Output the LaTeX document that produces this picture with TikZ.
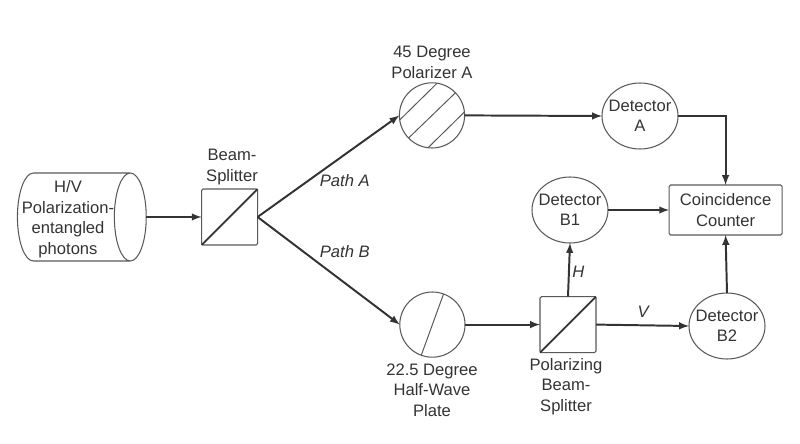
\documentclass[tikz,border=0pt]{standalone}
\usepackage{fontspec}
\setmainfont{Liberation Sans}
\usetikzlibrary{
	shapes.geometric,
	arrows.meta
}
\definecolor{inkgray}{HTML}{333333}
\definecolor{edgegray}{HTML}{595959}
\tikzset{
	every picture/.style={
		>=latex
	},
	every node/.style={
		font=\fontsize{11.8}{14.6}\selectfont,
		text=inkgray,
		align=center,
		inner sep=0pt,
		outer sep=0pt
	},
	optic/.style={draw=edgegray,line width=0.75pt},
	splitterbox/.style={optic,rectangle,rounded corners=1pt,minimum size=1.4cm},
	platedisc/.style={optic,circle,minimum size=1.63cm},
	detectorbox/.style={optic,ellipse,inner xsep=-3.3pt,minimum width=1.9cm,minimum height=1.65cm},
	beam/.style={draw=inkgray,line width=1.4pt,->},
	hatch/.style={draw=edgegray,line width=0.7pt},
	pathlabel/.style={font=\fontsize{11.8}{14.6}\selectfont\itshape}
}
\begin{document}
\begin{tikzpicture}
	\useasboundingbox (0,0) rectangle (20,11.075);
	% source and first splitter
	\node (source) at (1.84,5.65) [optic,shape=cylinder,shape aspect=0.42,minimum height=3.22cm,minimum width=2.2cm] {\rule{0pt}{54pt}};
	\node (sourcetext) at (1.7,5.6) {H/V\\Polarization-\\entangled\\photons};
	\node (bs) at (5.74,5.65) [splitterbox] {};
	\node (bstext) at (5.8,6.9) {Beam-\\Splitter};
	% optical elements
	\node (polA) at (10.8,8.19) [platedisc] {};
	\node (polAtext) at (10.8,9.52) {45 Degree\\Polarizer A};
	\node (hwp) at (10.81,2.96) [platedisc] {};
	\node (hwptext) at (10.8,1.32) {22.5 Degree\\Half-Wave\\Plate};
	\node (pbs) at (14.2,2.96) [splitterbox] {};
	\node (pbstext) at (14.15,1.41) {Polarizing\\Beam-\\Splitter};
	% detectors
	\node (detA) at (16,8.175) [detectorbox] {Detector\\A};
	\node (detB1) at (14.25,5.825) [detectorbox] {Detector\\B1};
	\node (detB2) at (18.175,2.925) [detectorbox] {Detector\\B2};
	\node (counter) at (18.14,5.825) [optic,rectangle,rounded corners=1pt,minimum width=2.825cm,minimum height=1.25cm] {Coincidence\\Counter};
	% labels
	\node (pathA) at (8.62,6.55) [pathlabel] {Path A};
	\node (pathB) at (8.62,4.79) [pathlabel] {Path B};
	\node (hlabel) at (14.46,4.27) [pathlabel] {H};
	\node (vlabel) at (16.08,3.27) [pathlabel] {V};
	% inner lines
	\draw[line width=1.3pt,inkgray] (bs.south west) -- (bs.north east);
	\draw[line width=1.3pt,inkgray] (pbs.south west) -- (pbs.north east);
	\draw[hatch] (polA.188) -- (polA.81);
	\draw[hatch] (polA.224) -- (polA.44);
	\draw[hatch] (polA.263) -- (polA.6);
	\draw[hatch] (hwp.250) -- (hwp.70);
	% beams
	\draw[beam] (source.top) -- (bs.west);
	\draw[beam] (bs.east) -- (polA.west);
	\draw[beam] (bs.east) -- (hwp.west);
	\draw[beam] (polA.east) -- (detA.west);
	\draw[beam] (hwp.east) -- (pbs.west);
	\draw[beam] (pbs.north) -- (detB1.south);
	\draw[beam] (pbs.east) -- (detB2.west);
	\draw[beam] (detA.east) -| (counter.north);
	\draw[beam] (detB1.east) -- (counter.west);
	\draw[beam] (detB2.north) -- (counter.south);
\end{tikzpicture}
\end{document}
